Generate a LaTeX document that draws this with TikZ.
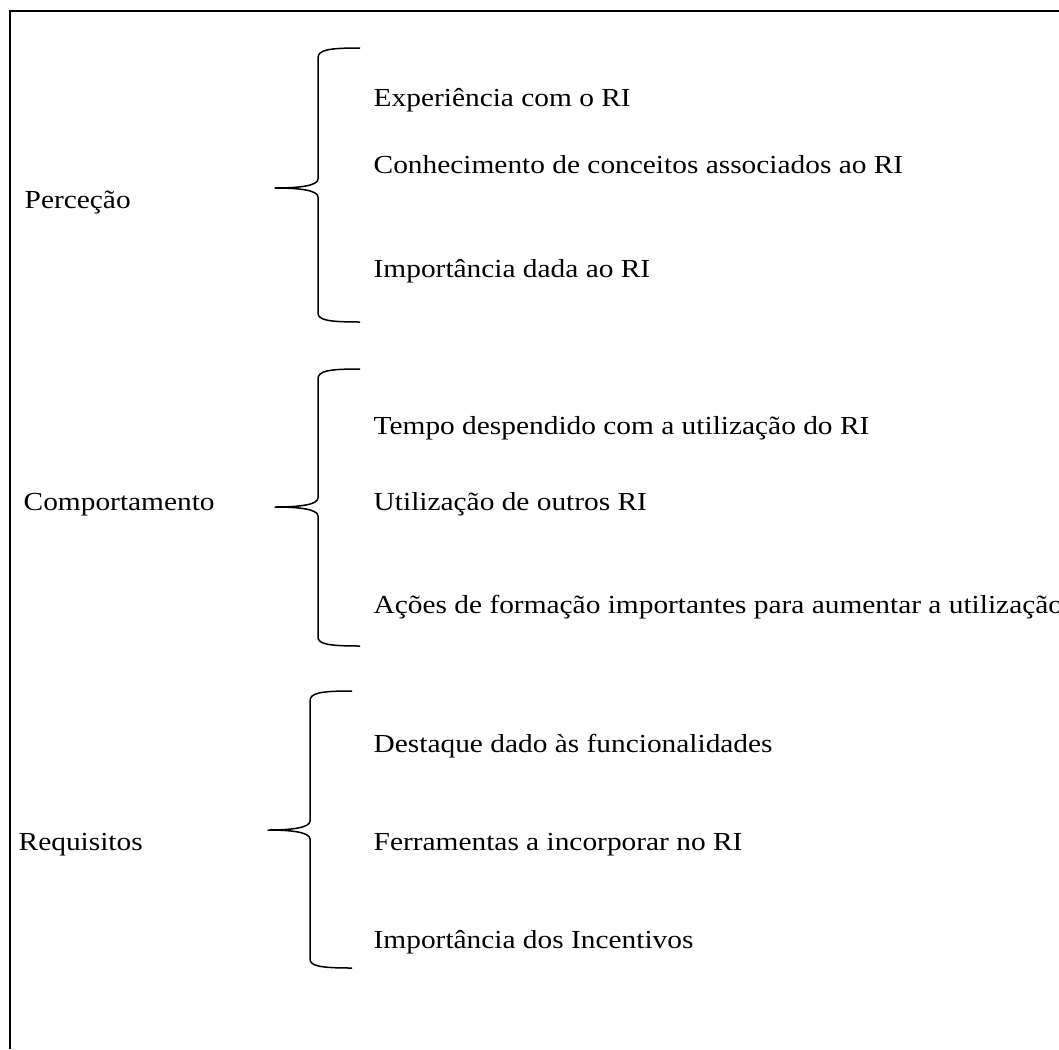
\documentclass[tikz,border=0pt]{standalone}
\usepackage{fontspec}
\setmainfont[FakeStretch=1.13]{Liberation Serif}
\usepackage{tikz}
\usetikzlibrary{positioning}

\begin{document}
\begin{tikzpicture}[x=1pt, y=-1pt, line width=1.4pt, every node/.style={inner sep=0pt, anchor=base west, font=\fontsize{26}{30}\selectfont}, brace/.style={line width=1.5pt, line join=round}]
	\useasboundingbox (0,0) rectangle (1059,1049);
	\draw (1059,11) -- (10,11) -- (10,1049);

	\node (percecao) at (24,208) {Perceção};
	\draw [brace] (360,48) .. controls (328,48) and (318,50) .. (318,58) -- (318,179) .. controls (318,186) and (298,188) .. (275,188) .. controls (298,188) and (318,190) .. (318,197) -- (318,313) .. controls (318,320) and (328,322) .. (360,322);
	\node (experiencia) at (373,106) {Experiência com o RI};
	\node (conhecimento) at (373,173) {Conhecimento de conceitos associados ao RI};
	\node (importancia) at (373,277) {Importância dada ao RI};

	\node (comportamento) at (23,510) {Comportamento};
	\draw [brace] (360,369) .. controls (328,369) and (318,371) .. (318,379) -- (318,498) .. controls (318,505) and (298,507) .. (275,507) .. controls (298,507) and (318,509) .. (318,516) -- (318,637) .. controls (318,644) and (328,646) .. (360,646);
	\node (tempo) at (373,434) {Tempo despendido com a utilização do RI};
	\node (outros) at (373,510) {Utilização de outros RI};
	\node (acoes) at (373,613) {Ações de formação importantes para aumentar a utilização};

	\node (requisitos) at (18,850) {Requisitos};
	\draw [brace] (352,691) .. controls (320,691) and (310,693) .. (310,701) -- (310,821) .. controls (310,828) and (290,830) .. (268,830) .. controls (290,830) and (310,832) .. (310,839) -- (310,959) .. controls (310,966) and (320,968) .. (352,968);
	\node (destaque) at (373,752) {Destaque dado às funcionalidades};
	\node (ferramentas) at (373,850) {Ferramentas a incorporar no RI};
	\node (incentivos) at (373,948) {Importância dos Incentivos};
\end{tikzpicture}
\end{document}
